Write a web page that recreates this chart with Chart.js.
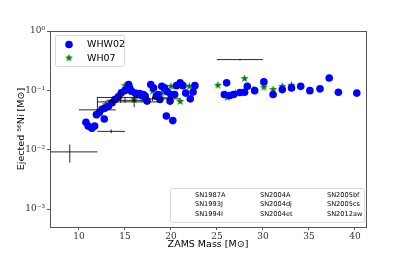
<!DOCTYPE html>
<html>
<head>
<meta charset="utf-8">
<script src="https://cdn.jsdelivr.net/npm/chart.js@4"></script>
<style>
  html, body { margin: 0; padding: 0; background: #fff; }
  #c { display: block; }
</style>
</head>
<body>
<canvas id="c" width="407" height="255"></canvas>
<script>
// WHW02 model yields
const whwMass = [10.76, 11.0, 11.4, 11.7, 11.9, 12.2, 12.5, 12.75, 12.8, 13.2, 13.6, 13.9, 14.3, 14.6,
  15.0, 15.4, 15.5, 15.7, 16.1, 16.4, 16.6, 16.8, 17.0, 17.2, 17.4, 17.8, 18.1, 18.4, 18.6, 18.8,
  19.0, 19.3, 19.5, 19.6, 19.9, 20.0, 20.2, 20.4, 20.6, 21.0, 21.3, 21.6, 22.1, 22.4, 22.6,
  25.8, 26.05, 26.4, 26.8, 27.5, 28.0, 28.3, 29.1, 30.1, 31.1, 32.1, 33.1, 34.1, 35.1, 36.2, 37.2, 38.2, 40.2];
const whwNi = [0.029, 0.025, 0.023, 0.025, 0.039, 0.042, 0.048, 0.033, 0.050, 0.054, 0.062, 0.070, 0.079, 0.091,
  0.100, 0.125, 0.110, 0.097, 0.090, 0.085, 0.088, 0.082, 0.085, 0.080, 0.066, 0.125, 0.110, 0.080, 0.085, 0.070,
  0.117, 0.110, 0.037, 0.095, 0.066, 0.085, 0.031, 0.085, 0.120, 0.134, 0.120, 0.090, 0.072, 0.094, 0.120,
  0.085, 0.134, 0.082, 0.085, 0.092, 0.093, 0.117, 0.099, 0.139, 0.085, 0.103, 0.110, 0.117, 0.099, 0.106, 0.162, 0.093, 0.090];

// WH07 model yields
const wh07Mass = [11.9, 12.9, 13.9, 15.0, 16.0, 17.0, 18.0, 19.0, 20.0, 21.0, 22.0,
  25.1, 26.1, 27.0, 28.0, 29.0, 30.1, 31.1, 32.1, 33.1];
const wh07Ni = [0.039, 0.057, 0.072, 0.120, 0.070, 0.072, 0.097, 0.090, 0.117, 0.065, 0.117,
  0.122, 0.076, 0.090, 0.158, 0.103, 0.113, 0.103, 0.117, 0.122];

// observed supernovae (legend order)
const snNames = ['SN1987A', 'SN1993J', 'SN1994I', 'SN2004A', 'SN2004dj', 'SN2004et', 'SN2005bf', 'SN2005cs', 'SN2012aw'];
const snMass   = [19,    14.5,  16,    12,    13.5,   15,    27.5, 9,      18];
const snMassLo = [18,    12,    12,    10,    12,     13,    25,   6,      17];
const snMassHi = [20,    17,    19,    14,    15,     17,    30,   12,     21];
const snNi     = [0.075, 0.076, 0.064, 0.047, 0.0204, 0.068, 0.33, 0.0092, 0.072];
const snNiLo   = [0.070, 0.062, 0.052, 0.034, 0.019,  0.062, 0.32, 0.0061, 0.066];
const snNiHi   = [0.080, 0.094, 0.080, 0.078, 0.022,  0.075, 0.34, 0.0122, 0.078];

const xTicks = [10, 15, 20, 25, 30, 35, 40];
const yTicks = [0.001, 0.01, 0.1, 1];
const yTickLabels = ['10⁻³', '10⁻²', '10⁻¹', '10⁰'];

// filled five point star for WH07
function makeStar(r, color) {
  const c = document.createElement('canvas');
  const s = Math.ceil(r * 2) + 2;
  c.width = s; c.height = s;
  const g = c.getContext('2d');
  g.fillStyle = color;
  g.beginPath();
  for (let i = 0; i < 10; i++) {
    const rr = i % 2 === 0 ? r : r * 0.42;
    const a = -Math.PI / 2 + i * Math.PI / 5;
    const px = s / 2 + rr * Math.cos(a), py = s / 2 + rr * Math.sin(a);
    if (i === 0) g.moveTo(px, py); else g.lineTo(px, py);
  }
  g.closePath();
  g.fill();
  return c;
}
const starImg = makeStar(4.2, '#008000');

const toXY = (xs, ys) => xs.map((x, i) => ({x: x, y: ys[i]}));

const extras = {
  id: 'extras',
  afterDatasetsDraw(chart) {
    const {ctx, chartArea: a, scales: {x, y}} = chart;
    // error bars
    ctx.save();
    ctx.beginPath();
    ctx.rect(a.left, a.top, a.right - a.left, a.bottom - a.top);
    ctx.clip();
    ctx.strokeStyle = 'rgba(0,0,0,0.85)';
    ctx.lineWidth = 1;
    snNames.forEach((n, i) => {
      const cx = x.getPixelForValue(snMass[i]), cy = y.getPixelForValue(snNi[i]);
      ctx.beginPath();
      ctx.moveTo(x.getPixelForValue(snMassLo[i]), cy);
      ctx.lineTo(x.getPixelForValue(snMassHi[i]), cy);
      ctx.moveTo(cx, y.getPixelForValue(snNiLo[i]));
      ctx.lineTo(cx, y.getPixelForValue(snNiHi[i]));
      ctx.stroke();
    });
    ctx.restore();
  },
  afterDraw(chart) {
    const {ctx, chartArea: a} = chart;
    ctx.save();
    // frame
    ctx.strokeStyle = '#555';
    ctx.lineWidth = 1;
    ctx.strokeRect(a.left + 0.5, a.top + 0.5, a.right - a.left, a.bottom - a.top);

    // model legend
    ctx.strokeStyle = '#d8d8d8';
    ctx.fillStyle = 'rgba(255,255,255,0.8)';
    ctx.beginPath();
    ctx.roundRect(a.left + 5.5, a.top + 4.5, 69, 31, 2);
    ctx.fill();
    ctx.stroke();
    ctx.fillStyle = '#0000ff';
    ctx.beginPath();
    ctx.arc(a.left + 19, a.top + 13.5, 3.8, 0, Math.PI * 2);
    ctx.fill();
    ctx.drawImage(starImg, a.left + 19 - starImg.width / 2, a.top + 27 - starImg.height / 2);
    ctx.fillStyle = '#000';
    ctx.font = '9.5px "DejaVu Sans"';
    ctx.textBaseline = 'middle';
    ctx.fillText(chart.data.datasets[0].label, a.left + 37, a.top + 14);
    ctx.fillText(chart.data.datasets[1].label, a.left + 37, a.top + 27.5);

    // supernova legend
    ctx.strokeStyle = '#d8d8d8';
    ctx.fillStyle = 'rgba(255,255,255,0.8)';
    ctx.beginPath();
    ctx.roundRect(170.5, 188.5, 194, 34, 2);
    ctx.fill();
    ctx.stroke();
    ctx.fillStyle = '#000';
    ctx.font = '6.6px "DejaVu Sans"';
    const colX = [195, 260, 327];
    const rowY = [195, 204.5, 214];
    snNames.forEach((n, i) => {
      ctx.fillText(n, colX[Math.floor(i / 3)], rowY[i % 3]);
    });
    ctx.restore();
  }
};

new Chart(document.getElementById('c'), {
  type: 'scatter',
  data: {
    datasets: [
      {
        label: 'WHW02',
        data: toXY(whwMass, whwNi),
        pointStyle: 'circle',
        pointRadius: 3.8,
        pointBackgroundColor: '#0000ff',
        pointBorderWidth: 0,
      },
      {
        label: 'WH07',
        data: toXY(wh07Mass, wh07Ni),
        pointStyle: starImg,
      }
    ]
  },
  options: {
    responsive: false,
    animation: false,
    devicePixelRatio: 1,
    layout: {padding: {top: 31, right: 41, left: 0, bottom: 0}},
    plugins: {legend: {display: false}, tooltip: {enabled: false}},
    scales: {
      x: {
        type: 'linear',
        min: 6.85,
        max: 41.2,
        afterBuildTicks: s => { s.ticks = xTicks.map(v => ({value: v})); },
        afterFit: s => { s.height = 28; },
        grid: {display: true, drawOnChartArea: false, drawTicks: true, tickLength: 3, color: '#555'},
        border: {display: false},
        ticks: {font: {family: '"DejaVu Serif"', size: 9}, color: '#333', padding: 1, maxRotation: 0},
        title: {display: true, text: 'ZAMS Mass [M⊙]', font: {family: '"DejaVu Sans"', size: 9.5},
          color: '#000', padding: {top: 0, bottom: 5}}
      },
      y: {
        type: 'logarithmic',
        min: 0.0005,
        max: 1,
        afterBuildTicks: s => { s.ticks = yTicks.map(v => ({value: v})); },
        afterFit: s => { s.width = 50; },
        grid: {display: true, drawOnChartArea: false, drawTicks: true, tickLength: 3, color: '#555'},
        border: {display: false},
        ticks: {
          font: {family: '"DejaVu Serif"', size: 9}, color: '#333', padding: 2,
          callback: (v, i) => yTickLabels[i]
        },
        title: {display: true, text: 'Ejected ⁵⁶Ni [M⊙]', font: {family: '"DejaVu Sans"', size: 9.5},
          color: '#000', padding: {top: 16, bottom: 0}}
      }
    }
  },
  plugins: [extras]
});
</script>
</body>
</html>
